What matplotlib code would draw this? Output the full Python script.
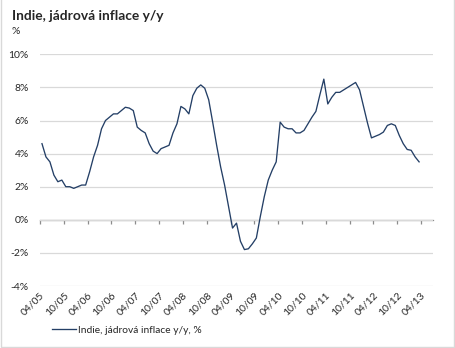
import numpy as np
import matplotlib
matplotlib.use("Agg")
import matplotlib.pyplot as plt
from matplotlib.lines import Line2D

# monthly core inflation, India, y/y in %, 04/2005 .. 03/2013
values = [4.6, 3.8, 3.5, 2.7, 2.3, 2.4, 2.0, 2.0, 1.9, 2.0, 2.1, 2.1,
          2.9, 3.8, 4.5, 5.5, 6.0, 6.2, 6.4, 6.4, 6.6, 6.8, 6.75, 6.6,
          5.6, 5.4, 5.25, 4.6, 4.15, 4.0, 4.3, 4.4, 4.5, 5.25, 5.8, 6.85,
          6.7, 6.4, 7.5, 7.95, 8.15, 7.95, 7.25, 5.9, 4.5, 3.2, 2.1, 0.8,
          -0.5, -0.2, -1.3, -1.8, -1.75, -1.45, -1.1, 0.2, 1.4, 2.4, 3.0, 3.5,
          5.9, 5.6, 5.5, 5.5, 5.25, 5.25, 5.4, 5.8, 6.2, 6.55, 7.55, 8.5,
          7.0, 7.4, 7.7, 7.7, 7.85, 8.0, 8.15, 8.3, 7.85, 6.85, 5.85, 4.95,
          5.05, 5.15, 5.3, 5.7, 5.8, 5.7, 5.1, 4.6, 4.25, 4.2, 3.8, 3.5]
tick_labels = ['04/05', '10/05', '04/06', '10/06', '04/07', '10/07', '04/08',
               '10/08', '04/09', '10/09', '04/10', '10/10', '04/11', '10/11',
               '04/12', '10/12', '04/13']
y_ticks = [-4, -2, 0, 2, 4, 6, 8, 10]

plt.rcParams['font.family'] = ['Lato', 'DejaVu Sans']
txt = '#262626'

fig = plt.figure(figsize=(4.55, 3.48), dpi=100)
ax = fig.add_axes([40/455, 1-286/348, 393/455, (286-54.3)/348])

x = np.arange(len(values)) + 0.5
ax.plot(x, values, color='#243f66', lw=0.95)

ax.set_xlim(0, 99)
ax.set_ylim(-4, 10)
ax.set_yticks(y_ticks)
ax.set_yticklabels([f'{v}%' for v in y_ticks], fontsize=7.5, color=txt)
ax.grid(axis='y', color='#d9d9d9', lw=0.9)
ax.set_axisbelow(True)
ax.tick_params(axis='y', length=0, pad=8)

tpos = np.arange(len(tick_labels)) * 6
ax.set_xticks(tpos)
ax.set_xticklabels(tick_labels, rotation=45, ha='right', va='top',
                   rotation_mode='anchor', fontsize=7.5, color=txt)
ax.tick_params(axis='x', length=0, pad=3)
for s in ax.spines.values():
    s.set_visible(False)

# category axis crossing at zero
sec = ax.secondary_xaxis(4/14)
sec.set_xticks(tpos)
sec.set_xticklabels([])
sec.tick_params(axis='x', direction='out', length=3, color='#8c8c8c', width=0.9)
sec.spines['bottom'].set_color('#8c8c8c')
sec.spines['bottom'].set_linewidth(0.9)

fig.text(12/455, 1-16/348, 'Indie, jádrová inflace y/y', fontsize=9.9,
         fontweight='bold', color=txt, va='center')
fig.text(12/455, 1-31/348, '%', fontsize=7.5, color=txt, va='center')

ax.legend(['Indie, jádrová inflace y/y, %'], loc='center left',
          bbox_to_anchor=(43/455, 1-330/348), bbox_transform=fig.transFigure,
          frameon=False, fontsize=7.4, handlelength=2.3, handletextpad=0.2,
          labelcolor=txt)

# chart area border (left, right, bottom)
bx = [0.5/455, 0.5/455, 453.5/455, 453.5/455]
by = [1.0, 1-346.5/348, 1-346.5/348, 1.0]
fig.lines.append(Line2D(bx, by, transform=fig.transFigure,
                        color='#d9d9d9', lw=1))

fig.savefig('out.png', dpi=100)
